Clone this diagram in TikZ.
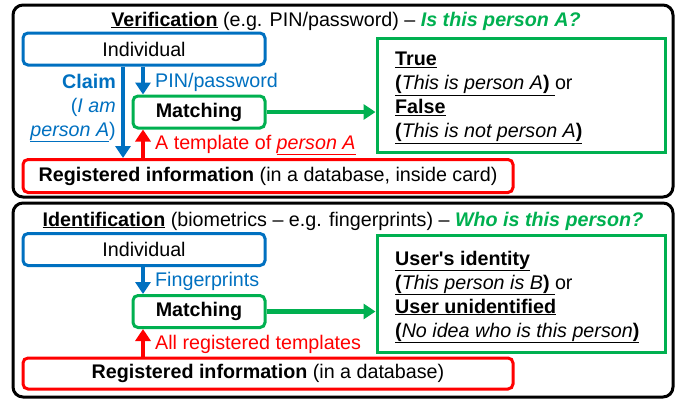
\documentclass[tikz,border=0pt]{standalone}
\usepackage{fontspec}
\setmainfont{Liberation Sans}
\usetikzlibrary{arrows.meta,calc}
\definecolor{myblue}{RGB}{0,112,192}
\definecolor{mygreen}{RGB}{0,176,80}
\definecolor{myred}{RGB}{255,0,0}
\begin{document}
\begin{tikzpicture}[x=1pt,y=-1pt,
  every node/.style={font=\fontsize{19.7}{24}\selectfont, inner sep=0pt},
  panel/.style={draw=black, line width=3pt, rounded corners=10pt, minimum width=660pt},
  bbox/.style={draw=myblue, line width=3pt, rounded corners=5pt, minimum width=242pt, minimum height=32pt},
  gbox/.style={draw=mygreen, line width=3pt, rounded corners=5pt, minimum width=132pt, minimum height=32pt},
  rbox/.style={draw=myred, line width=3pt, rounded corners=5pt, minimum width=490pt, minimum height=33pt},
  resbox/.style={draw=mygreen, line width=3pt, minimum width=288pt},
  restext/.style={anchor=west, align=left},
  arr/.style={line width=4.5pt, -{Triangle[width=15pt,length=12pt]}},
]
\useasboundingbox (0,0) rectangle (678,399);
% panels
\node[panel, minimum height=192pt] (p1) at (343,101) {};
\node[panel, minimum height=194pt] (p2) at (343,300) {};
\coordinate (cx) at (123,0);
\coordinate (px) at (143,0);

% ---------- Verification ----------
\node (t1) at (346,21) {\underline{\textbf{Verification}} (e.g. PIN/password) -- \textcolor{mygreen}{\textbf{\textit{Is this person A?}}}};
\node[bbox] (ind1) at (144,49) {Individual};
\node[gbox] (mat1) at (199,112) {\textbf{Matching}};
\node[rbox] (reg1) at (268,176) {\textbf{Registered information} (in a database, inside card)};
\node[resbox, minimum height=114pt] (res1) at (521,95) {};
\node[restext] (res1t) at (395,97.5) {\underline{\textbf{True}}\\
\underline{\textbf{(}\textit{This is person A}\textbf{)} }or\\
\underline{\textbf{False}}\\
\underline{\textbf{(}\textit{This is not person A}\textbf{)}}};
\draw[arr, myblue] (ind1.south -| cx) -- (reg1.north -| cx);
\draw[arr, myblue] (ind1.south -| px) -- (mat1.north -| px);
\draw[arr, myred] (reg1.north -| px) -- (mat1.south -| px);
\draw[arr, mygreen] (mat1.east) -- (mat1.east -| res1.west);
\node[anchor=east, align=right, text=myblue] (claim) at (116,108) {\textbf{Claim}\\(\textit{I am}\\\underline{\textit{person A}})};
\node[anchor=west, text=myblue] (pin) at (155,82) {PIN/password};
\node[anchor=west, text=myred] (tmpl) at (155,145) {A template of \underline{\textit{person A}}};

% ---------- Identification ----------
\node (t2) at (343,221) {\underline{\textbf{Identification}} (biometrics -- e.g. fingerprints) -- \textcolor{mygreen}{\textbf{\textit{Who is this person?}}}};
\node[bbox] (ind2) at (144,249.5) {Individual};
\node[gbox] (mat2) at (199,311.5) {\textbf{Matching}};
\node[rbox, minimum height=31pt] (reg2) at (268,373.5) {\textbf{Registered information} (in a database)};
\node[resbox, minimum height=117pt] (res2) at (521,293.5) {};
\node[restext] (res2t) at (395,297) {\underline{\textbf{User\textquotesingle s identity}}\\
\underline{\textbf{(}\textit{This person is B}\textbf{)} }or\\
\underline{\textbf{User unidentified}}\\
\underline{\textbf{(}\textit{No idea who is this person}\textbf{)}}};
\draw[arr, myblue] (ind2.south -| px) -- (mat2.north -| px);
\draw[arr, myred] (reg2.north -| px) -- (mat2.south -| px);
\draw[arr, mygreen] (mat2.east) -- (mat2.east -| res2.west);
\node[anchor=west, text=myblue] (fp) at (155,281) {Fingerprints};
\node[anchor=west, text=myred] (allt) at (155,344) {All registered templates};
\end{tikzpicture}
\end{document}
